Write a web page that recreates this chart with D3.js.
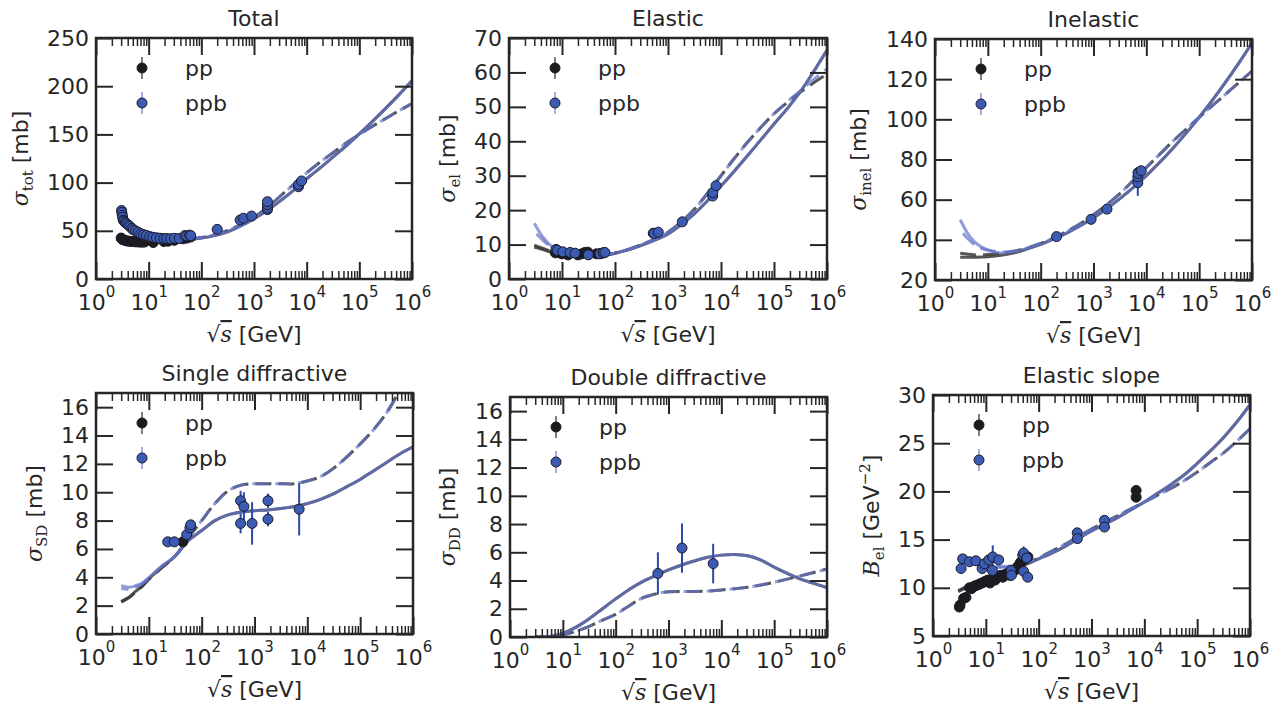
<!DOCTYPE html>
<html><head><meta charset="utf-8">
<script src="https://cdn.jsdelivr.net/npm/d3@7"></script>
<style>body{margin:0;background:#fff}</style>
</head><body><svg id="c" width="1286" height="711"></svg>
<script>
// ---------------- DATA ----------------
const xTickExponents = [0,1,2,3,4,5,6];
const curveSqrtS = [3, 4.2, 5.6, 7.5, 10, 17.8, 31.6, 56.2, 100, 178, 316, 562, 1000, 1778, 3162, 5623, 1e4, 17783, 31623, 56234, 1e5, 177828, 316228, 562341, 1e6];

// Total
const totalPpSolid   = [40.5,39.5,38.8,38.5,38.5,38.8,39.5,40.8,42.5,45,49,55,62.5,71,81,92,104,115,126.5,138,150.5,163.5,177,191,205.5];
const totalPpbSolid  = [68,58,52,47.5,44.5,41.5,40.8,41.2,42.5,45,49,55,62.5,71,81,92,104,115,126.5,138,150.5,163.5,177,191,205.5];
const totalPpDashed  = [41,40,39,38.8,38.8,39,39.8,41,43,46,50.5,56.5,64,74,86,98,110,121,131,141,150,158.5,166.5,174.5,182];
const totalPpbDashed = [66,57,51,47,44.5,41.5,41,41.5,43,46,50.5,56.5,64,74,86,98,110,121,131,141,150,158.5,166.5,174.5,182];
const totalPpData = [[3.0,42.5],[3.1,41.5],[3.2,41],[3.4,40.5],[3.6,40],[3.9,39.5],[4.2,39.2],[4.6,39],[5.0,38.8],[5.5,38.6],[6.0,38.5],[6.6,38.4],[7.2,38.3],[7.8,38.3],[8.4,38.4],[12.2,37.8],[19.4,38.9],[23.5,39.2],[30.6,40.1],[44.7,41.7],[52.8,42.4],[62.5,43.5]];
const totalPpbData = [[3.05,71],[3.1,69],[3.15,66],[3.2,64],[3.3,61],[3.4,60],[3.6,58.5],[3.8,57.5],[4.1,56],[4.4,54.5],[4.8,52.5],[5.1,51],[5.6,50],[6.3,48.5],[7.1,47],[8,46],[9.1,45.2],[10.5,44],[12,43.3],[14,42.8],[16.5,42.3],[19.4,42],[22,42],[26,41.8],[31,42.2],[38,42],[48.5,45],[53,44.8],[60,45.5],[63,45],[200,51.5],[546,61.2],[630,63],[900,65.3],[1800,72],[1800,73.5],[1800,77],[1800,80.2],[7000,95.7],[7000,98],[8000,101.7]];

// Elastic
const elPpSolid   = [9.3,8.6,8.0,7.6,7.2,6.7,6.5,6.8,7.5,8.5,9.8,11.3,13.1,15.8,19.0,22.8,27.0,31.3,35.8,40.4,45,49.5,54.5,60.3,66.5];
const elPpbSolid  = [16.2,12.5,10.3,8.8,7.9,6.9,6.6,6.8,7.5,8.5,9.8,11.3,13.1,15.8,19.0,22.8,27.0,31.3,35.8,40.4,45,49.5,54.5,60.3,66.5];
const elPpDashed  = [9.8,9.0,8.3,7.8,7.4,6.8,6.6,6.8,7.5,8.6,10.0,11.6,13.6,16.6,20.3,25.0,30.0,35.0,39.7,44.0,48.0,51.3,54.3,57.0,59.5];
const elPpbDashed = [13.8,11.5,9.8,8.6,7.8,6.9,6.6,6.8,7.5,8.6,10.0,11.6,13.6,16.6,20.3,25.0,30.0,35.0,39.7,44.0,48.0,51.5,54.7,58.0,61.0];
const elPpData  = [[7.5,7.6],[8,7.9],[9,7.6],[10,7.3],[13,7.0],[20,7.0],[23.5,7.3],[27,7.7],[30.6,7.8],[44.7,7.3],[52.8,7.4],[62.5,7.6]];
const elPpbData = [[7.7,8.6],[8.2,8.3],[10.3,7.9],[14.2,7.7],[17.6,7.5],[31.4,7.0],[52,7.3],[60,7.6],[64.6,7.7],[527,13.3],[546,13.2],[655,13.6],[1860,16.6,0.8],[6960,24.1],[7000,25.1],[8050,27.1]];

// Inelastic
const inPpSolid   = [31.3,31.3,31.3,31.4,31.6,32.3,33.5,35.5,37.8,40.5,43.5,47,51,55.5,60.5,66,72,78.5,85.5,93,101,109.5,118.5,128,138];
const inPpbSolid  = [50,43,39,36.5,35,33.5,34,35.8,37.8,40.5,43.5,47,51,55.5,60.5,66,72,78.5,85.5,93,101,109.5,118.5,128,138];
const inPpDashed  = [33.3,32.8,32.5,32.5,32.7,33.3,34.3,36,38.2,41,44.3,48,52.5,57.5,63,69.5,76,82.5,89,95,101,106.8,112.5,118.3,124];
const inPpbDashed = [45,40.5,37.5,35.8,34.8,34,34.5,36,38.2,41,44.3,48,52.5,57.5,63,69.5,76,82.5,89,95,101,106.8,112.5,118.3,124];
const inPpData  = [[7000,73.5]];
const inPpbData = [[200,41.6],[900,50.2],[1800,55.3],[6900,68.4,6.5],[6900,71.4],[7000,73.1],[8000,74.4]];

// Single diffractive
const sdPpSolid   = [2.3,2.6,3.0,3.4,3.9,4.7,5.5,6.6,7.3,8.0,8.4,8.6,8.7,8.75,8.85,9.0,9.2,9.5,9.9,10.4,10.9,11.5,12.1,12.7,13.2];
const sdPpbSolid  = [3.4,3.3,3.4,3.6,4.0,4.8,5.5,6.6,7.3,8.0,8.4,8.6,8.7,8.75,8.85,9.0,9.2,9.5,9.9,10.4,10.9,11.5,12.1,12.7,13.2];
const sdPpDashed  = [2.25,2.55,2.95,3.35,3.85,4.7,5.5,6.8,8.0,9.2,10.1,10.5,10.6,10.6,10.6,10.6,10.8,11.1,11.7,12.5,13.4,14.4,15.6,17.2,19];
const sdPpbDashed = [3.2,3.15,3.3,3.55,3.9,4.8,5.5,6.8,8.0,9.2,10.1,10.5,10.6,10.6,10.6,10.6,10.8,11.1,11.7,12.5,13.4,14.4,15.6,17.2,19];
const sdPpData  = [[44,6.5]];
const sdPpbData = [[22.8,6.5],[30.4,6.5],[52,7.0],[60,7.5],[62,7.7],[546,9.4,0.7],[546,7.8,0.7],[630,9.0,1.0],[900,7.8,1.5],[1800,9.4,0.5],[1800,8.1,0.5],[7000,8.8,1.85]];

// Double diffractive
const ddSolid  = [0.0,0.01,0.04,0.12,0.25,0.7,1.3,2.0,2.7,3.35,3.9,4.35,4.75,5.1,5.4,5.65,5.8,5.85,5.75,5.45,4.95,4.5,4.1,3.8,3.5];
const ddDashed = [0.0,0.0,0.02,0.07,0.15,0.4,0.75,1.2,1.6,2.2,2.75,3.05,3.2,3.22,3.22,3.25,3.33,3.42,3.52,3.68,3.88,4.1,4.33,4.57,4.82];
const ddPpData  = [];
const ddPpbData = [[630,4.5,1.5],[1800,6.3,1.75],[7000,5.2,1.4]];

// Elastic slope
const esPpSolid   = [9.6,10.0,10.3,10.6,10.9,11.4,11.9,12.4,13.0,13.6,14.3,15.1,15.9,16.6,17.3,18.1,18.9,19.8,20.7,21.7,22.9,24.2,25.6,27.2,29.0];
const esPpbSolid  = [12.8,12.7,12.6,12.4,12.3,12.1,12.2,12.5,13.0,13.6,14.3,15.1,15.9,16.6,17.3,18.1,18.9,19.8,20.7,21.7,22.9,24.2,25.6,27.2,29.0];
const esPpDashed  = [9.7,10.1,10.4,10.7,11.0,11.5,12.0,12.5,13.1,13.8,14.5,15.3,16.1,16.8,17.5,18.2,18.9,19.6,20.3,21.1,22.0,23.0,24.0,25.2,26.5];
const esPpbDashed = [12.9,12.8,12.6,12.4,12.3,12.2,12.3,12.6,13.1,13.8,14.5,15.3,16.1,16.8,17.5,18.2,18.9,19.6,20.3,21.1,22.0,23.0,24.0,25.2,26.5];
const esPpData  = [[3.15,8.0],[3.25,8.2],[3.8,8.9],[4.2,9.0],[4.9,10.0],[5.3,9.9],[5.8,10.1],[6.3,10.2],[7,10.3],[7.7,10.4],[8.5,10.5],[9.3,10.6],[10,10.7],[11,10.8],[12,10.5],[13,10.9],[14,11.0],[15,10.8],[16.5,11.1],[18,11.2],[19.4,11.3],[21,11.1],[23.5,11.4],[26,11.5],[28,11.3],[30.6,11.7],[35,11.8],[40,12.2],[44.7,12.6],[48,12.8],[52.8,12.9],[62.5,13.2],[7000,20.1],[7000,19.4]];
const esPpbData = [[3.4,12.0],[3.65,13.0,0.4],[4.9,12.7],[6.5,12.8],[8.5,12.0],[9.4,12.5],[11.4,12.9],[13.5,13.2,1.2],[13.3,11.8],[17.5,12.9],[30,11.8],[30.5,11.3,0.6],[50,13.4],[52,13.6,0.7],[59.5,13.1],[52,11.7],[62,11.1],[537,15.7,0.4],[540,15.1],[1760,17.0],[1760,16.3]];

// ---------------- LAYOUT / STYLE ----------------
const panels = [
  {id:0,title:"Total",sym:"σ",sub:"tot",unit:" [mb]",yDomain:[0,250],yTicks:[0,50,100,150,200,250],box:[96,38,412,279],ylabOff:68,
   c:[totalPpSolid,totalPpbSolid,totalPpDashed,totalPpbDashed],pp:totalPpData,ppb:totalPpbData},
  {id:1,title:"Elastic",sym:"σ",sub:"el",unit:" [mb]",yDomain:[0,70],yTicks:[0,10,20,30,40,50,60,70],box:[509,38,827,279],ylabOff:54,
   c:[elPpSolid,elPpbSolid,elPpDashed,elPpbDashed],pp:elPpData,ppb:elPpbData},
  {id:2,title:"Inelastic",sym:"σ",sub:"inel",unit:" [mb]",yDomain:[20,140],yTicks:[20,40,60,80,100,120,140],box:[935,39,1252,280],ylabOff:69,
   c:[inPpSolid,inPpbSolid,inPpDashed,inPpbDashed],pp:inPpData,ppb:inPpbData},
  {id:3,title:"Single diffractive",sym:"σ",sub:"SD",unit:" [mb]",yDomain:[0,17],yTicks:[0,2,4,6,8,10,12,14,16],box:[96,393,413,634],ylabOff:54,
   c:[sdPpSolid,sdPpbSolid,sdPpDashed,sdPpbDashed],pp:sdPpData,ppb:sdPpbData},
  {id:4,title:"Double diffractive",sym:"σ",sub:"DD",unit:" [mb]",yDomain:[0,17],yTicks:[0,2,4,6,8,10,12,14,16],box:[510,397,827,637],ylabOff:55,
   c:[ddSolid,ddSolid,ddDashed,ddDashed],pp:ddPpData,ppb:ddPpbData},
  {id:5,title:"Elastic slope",sym:"B",sub:"el",unit:" [GeV",sup:"−2",unit2:"]",yDomain:[5,30],yTicks:[5,10,15,20,25,30],box:[933,395,1250,636],ylabOff:54,
   c:[esPpSolid,esPpbSolid,esPpDashed,esPpbDashed],pp:esPpData,ppb:esPpbData}
];

const SANS="'DejaVu Sans', sans-serif";
const SERIF="'DejaVu Serif', serif";
const TXT="#262626";
const FS=22;
const ppLine={stroke:"#383838",op:0.85};
const ppbLine={stroke:"rgb(100,115,200)",op:0.7};
const ppFill="#1c1c1c", ppbFill="#3c5cb4", edge="#1b1b2a";
const ppErr="#1c1c1c", ppbErr="#2a4aa8";
const DASH="16,7";
const MERGE_INDEX=8; // curves share values from this sample on

const svg=d3.select("#c");
const defs=svg.append("defs");

function drawPanel(p){
  const [x0,y0,x1,y1]=p.box;
  const x=d3.scaleLog().domain([1,1e6]).range([x0,x1]);
  const y=d3.scaleLinear().domain(p.yDomain).range([y1,y0]);
  const g=svg.append("g");
  const cid="clip"+p.id;
  defs.append("clipPath").attr("id",cid).append("rect")
    .attr("x",x0).attr("y",y0).attr("width",x1-x0).attr("height",y1-y0);
  const plot=g.append("g").attr("clip-path",`url(#${cid})`);

  const line=d3.line().x(d=>x(d[0])).y(d=>y(d[1])).curve(d3.curveCatmullRom.alpha(0.5));
  const zip=vals=>curveSqrtS.map((s,i)=>[s,vals[i]]);
  // length of low-energy part, used to keep dash phases aligned where curves coincide
  const lowLen=vals=>{
    const tmp=svg.append("path").attr("d",line(zip(vals).slice(0,MERGE_INDEX+1)));
    const L=tmp.node().getTotalLength(); tmp.remove(); return L;
  };
  const dashOff=lowLen(p.c[2])-lowLen(p.c[3])+3;
  const styles=[
    [p.c[0],ppLine,null,0],[p.c[2],ppLine,DASH,0],
    [p.c[1],ppbLine,null,0],[p.c[3],ppbLine,DASH,dashOff]
  ];
  styles.forEach(([vals,st,dash,off])=>{
    plot.append("path").datum(zip(vals)).attr("d",line)
      .attr("fill","none").attr("stroke",st.stroke).attr("stroke-opacity",st.op)
      .attr("stroke-width",3).attr("stroke-dasharray",dash)
      .attr("stroke-dashoffset",off)
      .attr("stroke-linecap","butt");
  });

  function drawData(data,fill,errCol){
    const gg=plot.append("g");
    gg.selectAll("line").data(data.filter(d=>d[2])).join("line")
      .attr("x1",d=>x(d[0])).attr("x2",d=>x(d[0]))
      .attr("y1",d=>y(d[1]-d[2])).attr("y2",d=>y(d[1]+d[2]))
      .attr("stroke",errCol).attr("stroke-width",2);
    gg.selectAll("circle").data(data).join("circle")
      .attr("cx",d=>x(d[0])).attr("cy",d=>y(d[1])).attr("r",5)
      .attr("fill",fill).attr("stroke",edge).attr("stroke-width",1);
  }
  drawData(p.pp,ppFill,ppErr);
  drawData(p.ppb,ppbFill,ppbErr);

  const majors=xTickExponents.map(e=>Math.pow(10,e));
  const minors=[];
  for(let e=0;e<6;e++) for(let k=2;k<=9;k++) minors.push(k*Math.pow(10,e));
  const styleAx=sel=>{sel.select(".domain").remove();
    sel.selectAll(".tick line").attr("stroke",TXT).attr("stroke-width",2);};

  const bx=g.append("g").attr("transform",`translate(0,${y1})`)
    .call(d3.axisBottom(x).tickValues(majors).tickSizeInner(-17).tickSizeOuter(0).tickPadding(15).tickFormat(()=>""));
  styleAx(bx);
  bx.selectAll(".tick text").attr("font-family",SANS).attr("font-size",FS).attr("fill",TXT)
    .each(function(d){
      const t=d3.select(this); t.text(null);
      t.append("tspan").text("10");
      t.append("tspan").attr("dy",-13).attr("font-size",15).text(Math.round(Math.log10(d)));
    });
  const bxm=g.append("g").attr("transform",`translate(0,${y1})`)
    .call(d3.axisBottom(x).tickValues(minors).tickSizeInner(-8).tickSizeOuter(0).tickFormat(""));
  styleAx(bxm); bxm.selectAll(".tick line").attr("stroke-width",1.5);
  const tx=g.append("g").attr("transform",`translate(0,${y0})`)
    .call(d3.axisTop(x).tickValues(majors).tickSizeInner(-17).tickSizeOuter(0).tickFormat(""));
  styleAx(tx);
  const txm=g.append("g").attr("transform",`translate(0,${y0})`)
    .call(d3.axisTop(x).tickValues(minors).tickSizeInner(-8).tickSizeOuter(0).tickFormat(""));
  styleAx(txm); txm.selectAll(".tick line").attr("stroke-width",1.5);

  const ly=g.append("g").attr("transform",`translate(${x0},0)`)
    .call(d3.axisLeft(y).tickValues(p.yTicks).tickSizeInner(-17).tickSizeOuter(0).tickPadding(7).tickFormat(d3.format("d")));
  styleAx(ly);
  ly.selectAll(".tick text").attr("font-family",SANS).attr("font-size",FS).attr("fill",TXT);
  const ry=g.append("g").attr("transform",`translate(${x1},0)`)
    .call(d3.axisRight(y).tickValues(p.yTicks).tickSizeInner(-17).tickSizeOuter(0).tickFormat(""));
  styleAx(ry);

  g.append("rect").attr("x",x0).attr("y",y0).attr("width",x1-x0).attr("height",y1-y0)
    .attr("fill","none").attr("stroke",TXT).attr("stroke-width",2.5);

  g.append("text").attr("x",(x0+x1)/2).attr("y",y0-12).attr("text-anchor","middle")
    .attr("font-family",SANS).attr("font-size",FS).attr("fill",TXT).text(p.title);

  const xl=g.append("text").attr("x",(x0+x1)/2).attr("y",y1+63).attr("text-anchor","middle")
    .attr("font-family",SANS).attr("font-size",FS).attr("fill",TXT);
  xl.append("tspan").attr("font-family",SERIF).text("√");
  xl.append("tspan").attr("font-family",SERIF).attr("font-style","italic")
    .attr("text-decoration","overline").text("s");
  xl.append("tspan").text(" [GeV]");

  const cy=(y0+y1)/2, cx=x0-p.ylabOff;
  const yl=g.append("text").attr("transform",`translate(${cx},${cy}) rotate(-90)`)
    .attr("text-anchor","middle").attr("font-family",SANS).attr("font-size",FS).attr("fill",TXT);
  yl.append("tspan").attr("font-family",SERIF).attr("font-style","italic").text(p.sym);
  yl.append("tspan").attr("font-family",SERIF).attr("font-size",15).attr("dy",5).text(p.sub);
  yl.append("tspan").attr("dy",-5).text(p.unit);
  if(p.sup){
    yl.append("tspan").attr("font-family",SERIF).attr("font-size",15).attr("dy",-9).text(p.sup);
    yl.append("tspan").attr("dy",9).text(p.unit2);
  }

  const legend=[["pp",ppFill,"#555"],["ppb",ppbFill,"#8595d5"]];
  legend.forEach(([lab,fill,lc],i)=>{
    const mx=x0+46, my=y0+30+i*35;
    g.append("line").attr("x1",mx).attr("x2",mx).attr("y1",my-11).attr("y2",my+11)
      .attr("stroke",lc).attr("stroke-width",1.5);
    g.append("circle").attr("cx",mx).attr("cy",my).attr("r",5).attr("fill",fill)
      .attr("stroke",edge).attr("stroke-width",1);
    g.append("text").attr("x",x0+89).attr("y",my+8).attr("font-family",SANS)
      .attr("font-size",FS).attr("fill",TXT).text(lab);
  });
}
panels.forEach(drawPanel);
</script>
</body></html>
